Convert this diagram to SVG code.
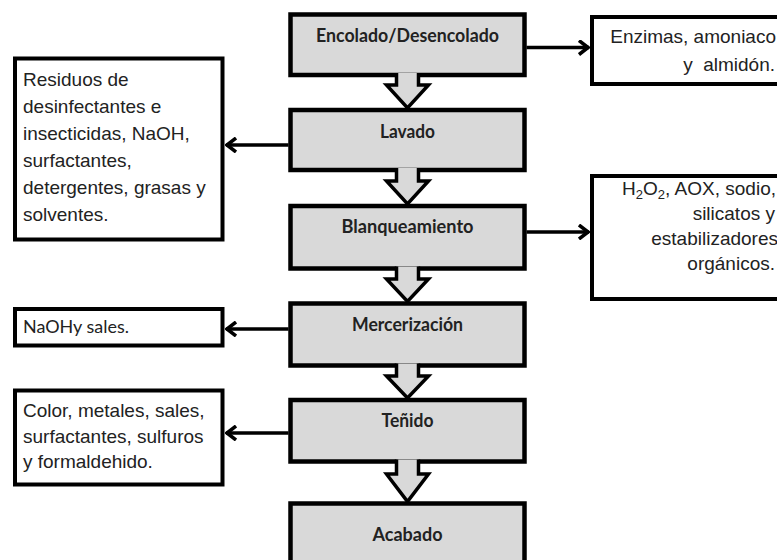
<svg xmlns="http://www.w3.org/2000/svg" width="777" height="560" viewBox="0 0 777 560">
<defs>
<style>
.main{fill:#d9d9d9;stroke:#000;stroke-width:4.5}
.side{fill:#fff;stroke:#000;stroke-width:4}
.blk{fill:#d9d9d9;stroke:#000;stroke-width:3.5;stroke-linejoin:miter}
.mt{font-family:Lato,"Open Sans",sans-serif;font-weight:700;font-size:18px;fill:#222;text-anchor:middle}
.st{font-family:"Liberation Sans",Arial,sans-serif;font-size:19px;fill:#222}
.cal{font-family:Lato,"Open Sans",sans-serif;font-size:18px;fill:#222}
.con{stroke:#000;stroke-width:3.5;fill:none}
</style>
<marker id="ah" viewBox="0 0 12 16" refX="11" refY="8" markerWidth="12" markerHeight="16" markerUnits="userSpaceOnUse" orient="auto">
<polyline points="1,1 10,8 1,15" fill="none" stroke="#000" stroke-width="3.5"/>
</marker>
</defs>
<rect width="777" height="560" fill="#fff"/>

<g id="encolado">
<rect class="main" x="290.5" y="14.5" width="234" height="60.5"/>
<text class="mt" x="407.5" y="42" textLength="183" lengthAdjust="spacingAndGlyphs">Encolado/Desencolado</text>
</g>
<g id="lavado">
<rect class="main" x="290.5" y="110" width="234" height="60"/>
<text class="mt" x="407.5" y="138" textLength="55" lengthAdjust="spacingAndGlyphs">Lavado</text>
</g>
<g id="blanqueamiento">
<rect class="main" x="290.5" y="206" width="234" height="62.5"/>
<text class="mt" x="407.5" y="233" textLength="132" lengthAdjust="spacingAndGlyphs">Blanqueamiento</text>
</g>
<g id="mercerizacion">
<rect class="main" x="290.5" y="303.5" width="234" height="62"/>
<text class="mt" x="407.5" y="331" textLength="111" lengthAdjust="spacingAndGlyphs">Mercerización</text>
</g>
<g id="tenido">
<rect class="main" x="290.5" y="400" width="234" height="61.5"/>
<text class="mt" x="407.5" y="427" textLength="52" lengthAdjust="spacingAndGlyphs">Teñido</text>
</g>
<g id="acabado">
<rect class="main" x="290.5" y="503.5" width="234" height="60"/>
<text class="mt" x="407.5" y="541" textLength="70" lengthAdjust="spacingAndGlyphs">Acabado</text>
</g>

<g id="enzimas">
<rect class="side" x="592" y="17" width="200" height="67"/>
<text class="st" text-anchor="end" x="776" y="43">Enzimas, amoniaco</text>
<text class="st" text-anchor="end" x="775" y="71" xml:space="preserve">y  almidón.</text>
</g>
<g id="residuos">
<rect class="side" x="15" y="58.5" width="207.5" height="181"/>
<text class="st" x="23" y="86">Residuos de</text>
<text class="st" x="23" y="113">desinfectantes e</text>
<text class="st" x="23" y="140">insecticidas, NaOH,</text>
<text class="st" x="23" y="167">surfactantes,</text>
<text class="st" x="23" y="194">detergentes, grasas y</text>
<text class="st" x="23" y="221">solventes.</text>
</g>
<g id="h2o2">
<rect class="side" x="592" y="176" width="200" height="123"/>
<text class="st" text-anchor="end" x="776" y="195">H<tspan font-size="13" dy="4">2</tspan><tspan dy="-4">O</tspan><tspan font-size="13" dy="4">2</tspan><tspan dy="-4">, AOX, sodio,</tspan></text>
<text class="st" text-anchor="end" x="775" y="220">silicatos y</text>
<text class="st" text-anchor="end" x="778" y="245">estabilizadores</text>
<text class="st" text-anchor="end" x="775" y="270">orgánicos.</text>
</g>
<g id="naoh">
<rect class="side" x="15" y="309" width="207.5" height="36.5"/>
<text class="cal" x="23" y="333" textLength="106" lengthAdjust="spacingAndGlyphs">NaOHy sales.</text>
</g>
<g id="color">
<rect class="side" x="15" y="390.5" width="207.5" height="94"/>
<text class="st" x="23" y="417">Color, metales, sales,</text>
<text class="st" x="23" y="443">surfactantes, sulfuros</text>
<text class="st" x="23" y="468">y formaldehido.</text>
</g>

<g id="connectors">
<path class="blk" d="M396.5,73 V85 H386.5 L407.5,108 L428.5,85 H418.5 V73"/>
<path class="blk" d="M396.5,168 V181 H386.5 L407.5,204 L428.5,181 H418.5 V168"/>
<path class="blk" d="M396.5,266.5 V279 H386.5 L407.5,301.5 L428.5,279 H418.5 V266.5"/>
<path class="blk" d="M396.5,363.5 V376 H386.5 L407.5,398 L428.5,376 H418.5 V363.5"/>
<path class="blk" d="M396.5,459.5 V474 H386.5 L407.5,501.5 L428.5,474 H418.5 V459.5"/>
<line class="con" x1="526.5" y1="47.5" x2="589" y2="47.5" marker-end="url(#ah)"/>
<line class="con" x1="288.5" y1="145" x2="226" y2="145" marker-end="url(#ah)"/>
<line class="con" x1="526.5" y1="232" x2="589" y2="232" marker-end="url(#ah)"/>
<line class="con" x1="288.5" y1="329" x2="226" y2="329" marker-end="url(#ah)"/>
<line class="con" x1="288.5" y1="433" x2="226" y2="433" marker-end="url(#ah)"/>
</g>
</svg>
